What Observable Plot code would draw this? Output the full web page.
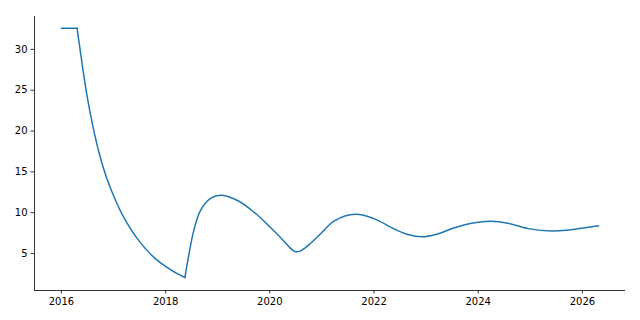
<!DOCTYPE html>
<html>
<head>
<meta charset="utf-8">
<script src="https://cdn.jsdelivr.net/npm/d3@7"></script>
<script src="https://cdn.jsdelivr.net/npm/@observablehq/plot@0.6"></script>
<style>
  html, body { margin: 0; padding: 0; background: white; }
</style>
</head>
<body>
<div id="chart"></div>
<script>
// Three pieces of the series (flat, decay, oscillation); corner points shared.
const years = [
  2016.00, 2016.30,
  2016.30, 2016.40, 2016.50, 2016.60, 2016.72, 2016.85, 2017.04, 2017.20, 2017.46, 2017.78, 2018.10, 2018.37,
  2018.37, 2018.43, 2018.54, 2018.67, 2018.87, 2019.05, 2019.38, 2019.70, 2020.02, 2020.28, 2020.38, 2020.48, 2020.58, 2020.72, 2020.98, 2021.24, 2021.64, 2022.01, 2022.39, 2022.65, 2022.92, 2023.22, 2023.54, 2023.90, 2024.25, 2024.57, 2024.96, 2025.42, 2025.70, 2025.98, 2026.31
];
const values = [
  32.6, 32.6,
  32.6, 28.1, 24.0, 20.7, 17.4, 14.6, 11.5, 9.4, 6.8, 4.5, 3.0, 2.06,
  2.06, 4.3, 7.8, 10.3, 11.8, 12.15, 11.5, 10.05, 8.15, 6.45, 5.75, 5.25, 5.3, 5.9, 7.45, 9.0, 9.8, 9.25, 8.0, 7.33, 7.05, 7.4, 8.15, 8.75, 8.95, 8.7, 8.05, 7.75, 7.85, 8.1, 8.4
];
const pieces = [
  "a", "a",
  "b", "b", "b", "b", "b", "b", "b", "b", "b", "b", "b", "b",
  "c", "c", "c", "c", "c", "c", "c", "c", "c", "c", "c", "c", "c", "c", "c", "c", "c", "c", "c", "c", "c", "c", "c", "c", "c", "c", "c", "c", "c", "c", "c"
];
const xTicks = [2016, 2018, 2020, 2022, 2024, 2026];
const yTicks = [5, 10, 15, 20, 25, 30];

const data = years.map((t, i) => ({t, v: values[i], p: pieces[i]}));
const xDomain = [2015.483, 2026.827];
const yDomain = [0.473, 34.03];

const chart = Plot.plot({
  width: 640,
  height: 320,
  marginLeft: 34,
  marginRight: 15,
  marginTop: 16,
  marginBottom: 30,
  style: {fontFamily: "DejaVu Sans", fontSize: "10px", color: "black", background: "white"},
  x: {domain: xDomain, label: null},
  y: {domain: yDomain, label: null},
  marks: [
    Plot.axisX(xTicks, {tickFormat: "d", tickSize: 3.5, tickPadding: 3.5, strokeWidth: 0.8, label: null}),
    Plot.axisY(yTicks, {tickSize: 3.5, tickPadding: 3.5, strokeWidth: 0.8, label: null}),
    Plot.ruleX([xDomain[0]], {stroke: "black", strokeWidth: 0.8}),
    Plot.ruleY([yDomain[0]], {stroke: "black", strokeWidth: 0.8}),
    Plot.line(data, {x: "t", y: "v", z: "p", stroke: "#1f77b4", strokeWidth: 1.5, curve: "catmull-rom"})
  ]
});
document.getElementById("chart").appendChild(chart);
</script>
</body>
</html>
